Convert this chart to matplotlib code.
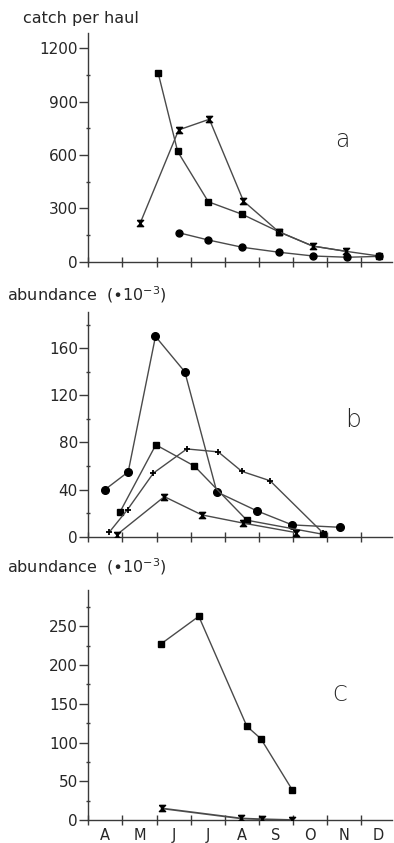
import matplotlib
matplotlib.use("Agg")
import matplotlib.pyplot as plt
from matplotlib.ticker import MultipleLocator, FixedLocator
import numpy as np

plt.rcParams['font.family'] = ['DejaVu Sans']

# month axis: 0 = start of April, 1 = start of May, ...
months = ["A", "M", "J", "J", "A", "S", "O", "N", "D"]

# ---- panel a : catch per haul ----
a_sq_x = [2.05, 2.62, 3.52, 4.52, 5.58, 6.58, 7.57, 8.53]
a_sq_y = [1060, 620, 337, 266, 169, 88, 58, 32]
a_st_x = [1.52, 2.65, 3.55, 4.55, 5.58, 6.58, 7.57]
a_st_y = [216, 741, 801, 341, 169, 88, 58]
a_ci_x = [2.65, 3.52, 4.52, 5.6, 6.6, 7.6, 8.53]
a_ci_y = [163, 122, 81, 53, 32, 25, 30]

# ---- panel b : abundance (x10^-3) ----
b_ci_x = [0.49, 1.17, 1.97, 2.83, 3.77, 4.94, 5.98, 7.38]
b_ci_y = [40, 55, 170, 140, 38, 22, 10, 8]
b_sq_x = [0.93, 1.98, 3.11, 4.65, 6.89]
b_sq_y = [21, 78, 60, 14, 2]
b_st_x = [0.83, 2.23, 3.33, 4.55, 6.09]
b_st_y = [1.5, 34, 18.5, 11.5, 3.5]
b_pl_x = [0.62, 1.15, 1.91, 2.89, 3.81, 4.5, 5.33, 6.89]
b_pl_y = [4, 23, 54, 74.5, 72, 55.5, 47.5, 3]

# ---- panel c : abundance (x10^-3) ----
c_sq_x = [2.12, 3.24, 4.65, 5.06, 5.98]
c_sq_y = [227, 263, 121, 105, 39]
c_st_x = [2.15, 4.48, 5.09, 5.97]
c_st_y = [15, 2, 1, 0]

W, H = 394, 843
fig = plt.figure(figsize=(W / 100, H / 100), dpi=100)

hourglass = [(-1, 1), (1, 1), (-1, -1), (1, -1), (-1, 1)]
LC = "#4a4a4a"
TXT = "#262626"

def make_axes(top_px, bottom_px, ymax, major, minor):
    left_px, right_px = 88.3, 392
    ax = fig.add_axes([left_px / W, 1 - bottom_px / H,
                       (right_px - left_px) / W, (bottom_px - top_px) / H])
    ax.set_xlim(0, (right_px - left_px) / 34.1)
    ax.set_ylim(0, ymax)
    for s in ("top", "right"):
        ax.spines[s].set_visible(False)
    for s in ("left", "bottom"):
        ax.spines[s].set_color("#3a3a3a")
        ax.spines[s].set_linewidth(1.0)
    ax.yaxis.set_major_locator(MultipleLocator(major))
    ax.yaxis.set_minor_locator(MultipleLocator(minor))
    ax.xaxis.set_major_locator(FixedLocator(np.arange(0, 9)))
    ax.xaxis.set_minor_locator(FixedLocator(np.arange(0.5, 9, 1)))
    ax.tick_params(axis="y", which="major", direction="out", length=6.5,
                   width=1, color="#3a3a3a", labelsize=11, labelcolor=TXT, pad=1)
    ax.tick_params(axis="y", which="minor", direction="inout", length=3.5,
                   width=1, color="#3a3a3a")
    ax.tick_params(axis="x", which="major", direction="inout", length=7,
                   width=1, color="#3a3a3a", labelbottom=False)
    ax.tick_params(axis="x", which="minor", length=0)
    ax.set_facecolor("none")
    return ax

# panel a
ax1 = make_axes(33, 261.7, 1286, 300, 150)
ax1.plot(a_sq_x, a_sq_y, color=LC, lw=1.0, marker="s", ms=5, mfc="black",
         mec="black", markevery=[0, 1, 2, 3, 4, 7], zorder=3)
ax1.plot(a_st_x, a_st_y, color=LC, lw=1.0, marker=hourglass, ms=4.5, mfc="black",
         mec="black", zorder=4)
ax1.plot(a_ci_x, a_ci_y, color=LC, lw=1.0, marker="o", ms=5, mfc="black",
         mec="black", zorder=3)
ax1.set_yticks([0, 300, 600, 900, 1200])
ax1.set_yticklabels(["0", "300", "600", "900", "1200"])
fig.text(23 / W, 1 - 18 / H, "catch per haul", fontsize=11.5, color=TXT,
         ha="left", va="center")
fig.text(342 / W, 1 - 140 / H, "a", fontsize=17, color=TXT, ha="center",
         va="center", fontweight="light")

# panel b
ax2 = make_axes(311.7, 536.7, 191, 40, 20)
ax2.plot(b_ci_x, b_ci_y, color=LC, lw=1.0, marker="o", ms=5.5, mfc="black",
         mec="black", zorder=3)
ax2.plot(b_sq_x, b_sq_y, color=LC, lw=1.0, marker="s", ms=5, mfc="black",
         mec="black", zorder=3)
ax2.plot(b_st_x, b_st_y, color=LC, lw=1.0, marker=hourglass, ms=4.5, mfc="black",
         mec="black", zorder=3)
ax2.plot(b_pl_x, b_pl_y, color=LC, lw=1.0, marker="+", ms=4, mew=1.3,
         mec="black", zorder=3)
fig.text(7 / W, 1 - 295 / H, r"abundance  ($\bullet$10$^{-3}$)", fontsize=11.5,
         color=TXT, ha="left", va="center")
fig.text(353 / W, 1 - 420 / H, "b", fontsize=18, color=TXT, ha="center",
         va="center", fontweight="light")

# panel c
ax3 = make_axes(590, 820, 297, 50, 25)
ax3.plot(c_sq_x, c_sq_y, color=LC, lw=1.0, marker="s", ms=5, mfc="black",
         mec="black", zorder=3)
ax3.plot(c_st_x, c_st_y, color=LC, lw=1.3, marker=hourglass, ms=4.5, mfc="black",
         mec="black", zorder=3)
ax3.xaxis.set_minor_formatter(plt.FixedFormatter(months))
ax3.tick_params(axis="x", which="minor", labelbottom=True, labelsize=10.5,
                labelcolor=TXT, pad=6)
fig.text(7 / W, 1 - 567 / H, r"abundance  ($\bullet$10$^{-3}$)", fontsize=11.5,
         color=TXT, ha="left", va="center")
fig.text(340 / W, 1 - 695 / H, "C", fontsize=15, color=TXT, ha="center",
         va="center", fontweight="light")

fig.savefig("out.png", dpi=100, facecolor="white")
